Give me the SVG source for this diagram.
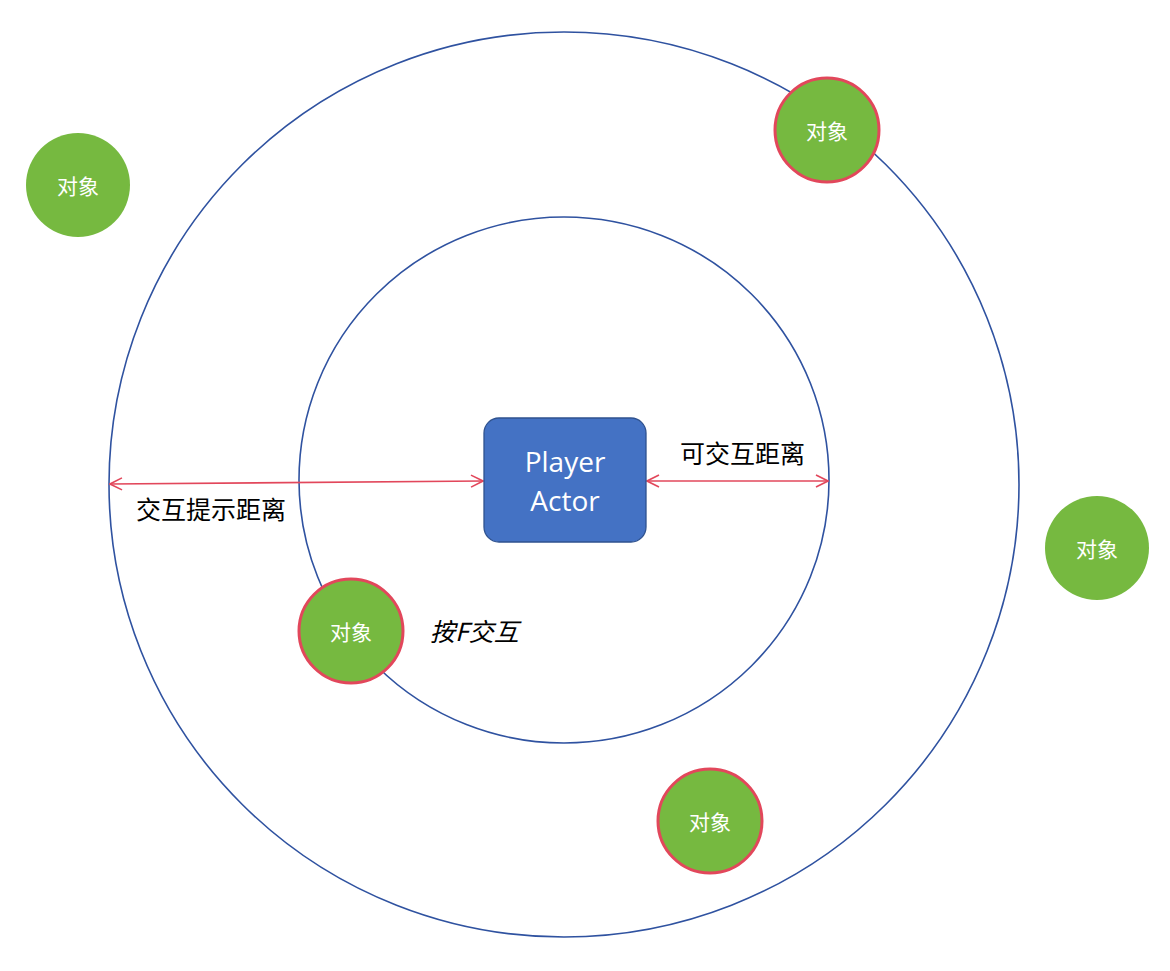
<svg xmlns="http://www.w3.org/2000/svg" width="1170" height="971" viewBox="0 0 1170 971">
<style>
.ring{fill:none;stroke:#2F52A0;stroke-width:1.6}
.obj{fill:#76B940}
.hit{stroke:#E2475B;stroke-width:3}
.otext{fill:#fff;font-family:"Noto Sans CJK SC","Noto Sans",sans-serif;font-size:21px;text-anchor:middle;dominant-baseline:central}
.lbl{fill:#000;font-family:"Noto Sans CJK SC","Noto Sans",sans-serif;font-size:25px}
.conn{stroke:#E2475B;stroke-width:1.6;fill:none;marker-start:url(#ah);marker-end:url(#ah)}
</style>
<defs>
<marker id="ah" viewBox="0 0 14 14" refX="13" refY="7" markerWidth="14" markerHeight="14" markerUnits="userSpaceOnUse" orient="auto-start-reverse">
<path d="M1,1 L13,7 L1,13" fill="none" stroke="#E2475B" stroke-width="1.6"/>
</marker>
</defs>
<rect width="1170" height="971" fill="#fff"/>
<g id="outer-ring"><ellipse class="ring" cx="564" cy="484.5" rx="455" ry="452.5"/></g>
<g id="inner-ring"><ellipse class="ring" cx="564" cy="480" rx="265" ry="263"/></g>
<g id="connectors">
<line class="conn" x1="110" y1="484" x2="483" y2="481"/>
<line class="conn" x1="647" y1="481" x2="828" y2="481"/>
</g>
<g id="player">
<rect x="484" y="418" width="162" height="124" rx="15" fill="#4472C4" stroke="#2F528F" stroke-width="1.3"/>
<text x="565" y="472" fill="#fff" font-family="'Open Sans','Noto Sans',sans-serif" font-size="28" text-anchor="middle">Player</text>
<text x="565" y="511" fill="#fff" font-family="'Open Sans','Noto Sans',sans-serif" font-size="28" text-anchor="middle">Actor</text>
</g>
<g id="obj1"><circle class="obj" cx="78" cy="185" r="52"/><text class="otext" x="78" y="185">对象</text></g>
<g id="obj2"><circle class="obj hit" cx="827" cy="130" r="52"/><text class="otext" x="827" y="130">对象</text></g>
<g id="obj3"><circle class="obj" cx="1097" cy="548" r="52"/><text class="otext" x="1097" y="548">对象</text></g>
<g id="obj4"><circle class="obj hit" cx="351" cy="631" r="52"/><text class="otext" x="351" y="631">对象</text></g>
<g id="obj5"><circle class="obj hit" cx="710" cy="821" r="52"/><text class="otext" x="710" y="821">对象</text></g>
<g id="label-interact"><text class="lbl" x="680" y="463">可交互距离</text></g>
<g id="label-hint"><text class="lbl" x="136" y="519">交互提示距离</text></g>
<g id="label-press"><text class="lbl" x="430" y="641" font-style="italic">按F交互</text></g>
</svg>
